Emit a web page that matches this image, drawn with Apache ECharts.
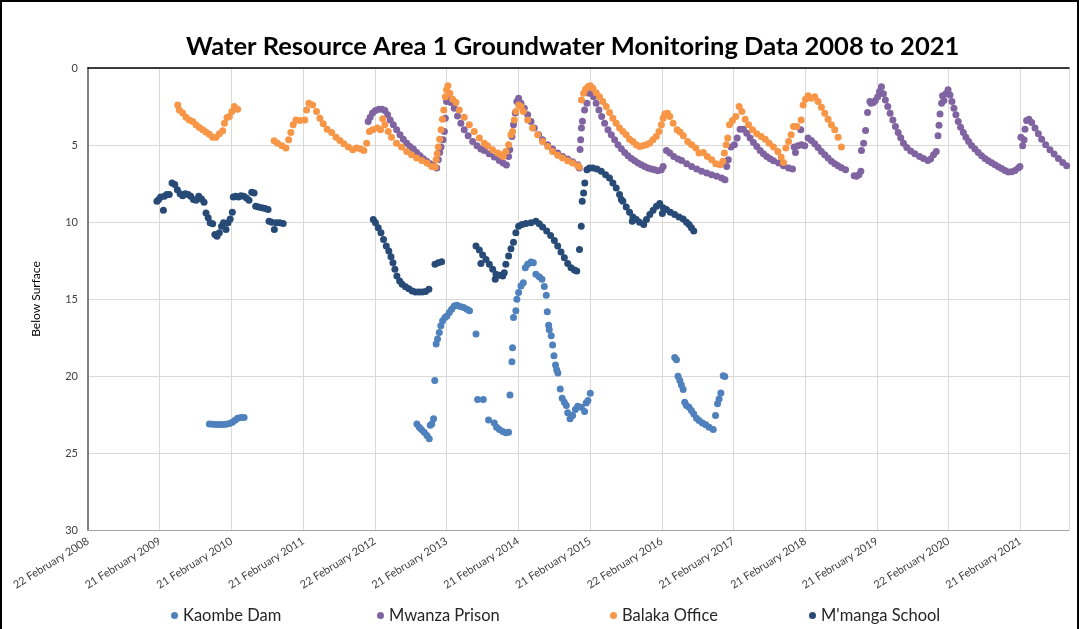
<!DOCTYPE html>
<html>
<head>
<meta charset="utf-8">
<script src="https://cdn.jsdelivr.net/npm/echarts@6/dist/echarts.min.js"></script>
<style>
  html, body { margin: 0; padding: 0; background: #fff; }
  #chart { position: absolute; left: 0; top: 0; width: 1079px; height: 629px; }
  #frame { position: absolute; left: 0; top: 0; width: 1075px; height: 629px;
           border-left: 2px solid #000; border-top: 2px solid #000; border-right: 2px solid #000;
           box-sizing: content-box; pointer-events: none; }
</style>
</head>
<body>
<div id="chart"></div>
<div id="frame"></div>
<script>
// groundwater depth below surface (m)
const kaombeDam = [
  ['2009-11-01',23.11],['2009-11-18',23.13],['2009-12-05',23.15],['2009-12-22',23.15],['2010-01-08',23.15],['2010-01-25',23.13],
  ['2010-02-11',23.09],['2010-02-26',23.0],['2010-03-12',22.87],['2010-03-25',22.74],['2010-04-10',22.7],['2010-04-27',22.7],
  ['2012-09-23',23.11],['2012-10-05',23.32],['2012-10-16',23.47],['2012-10-30',23.65],['2012-11-13',23.86],['2012-11-25',24.08],
  ['2012-11-30',23.2],['2012-12-08',23.11],['2012-12-17',22.78],['2012-12-23',20.3],['2012-12-30',17.93],['2013-01-06',17.6],
  ['2013-01-15',17.17],['2013-01-23',16.74],['2013-02-01',16.42],['2013-02-13',16.2],['2013-02-23',16.1],['2013-03-07',15.88],
  ['2013-03-19',15.66],['2013-04-01',15.45],['2013-04-15',15.4],['2013-05-02',15.49],['2013-05-19',15.56],['2013-06-05',15.66],
  ['2013-06-18',15.77],['2013-07-21',17.28],['2013-07-29',21.53],['2013-08-27',21.53],['2013-09-23',22.85],['2013-10-22',23.06],
  ['2013-11-03',23.32],['2013-11-17',23.47],['2013-12-04',23.6],['2013-12-20',23.69],['2014-01-03',23.65],['2014-01-10',21.23],
  ['2014-01-20',19.07],['2014-01-23',18.17],['2014-01-28',16.2],['2014-02-09',15.77],['2014-02-14',15.02],['2014-02-23',14.58],
  ['2014-03-07',14.16],['2014-03-19',13.94],['2014-03-29',12.97],['2014-04-10',12.75],['2014-04-27',12.6],['2014-05-09',12.64],
  ['2014-05-22',13.4],['2014-06-08',13.55],['2014-06-22',13.72],['2014-07-04',14.19],['2014-07-14',14.75],['2014-07-19',15.83],
  ['2014-07-26',16.7],['2014-07-29',17.0],['2014-08-08',17.39],['2014-08-15',17.99],['2014-08-22',18.68],['2014-08-30',19.29],
  ['2014-09-05',19.59],['2014-09-11',19.81],['2014-09-23',20.84],['2014-10-03',21.44],['2014-10-14',21.7],['2014-10-24',21.92],
  ['2014-10-31',22.39],['2014-11-12',22.78],['2014-11-25',22.57],['2014-12-09',22.18],['2014-12-21',21.96],['2015-01-08',22.03],
  ['2015-01-25',22.31],['2015-02-02',21.75],['2015-02-11',21.59],['2015-02-23',21.12],
  ['2016-04-28',18.8],['2016-05-07',18.94],['2016-05-15',20.02],['2016-05-24',20.3],['2016-06-01',20.58],['2016-06-10',20.88],
  ['2016-06-18',21.7],['2016-06-27',21.92],['2016-07-10',22.03],['2016-07-22',22.24],['2016-08-03',22.46],['2016-08-17',22.74],
  ['2016-08-30',22.89],['2016-09-16',23.05],['2016-10-03',23.17],['2016-10-20',23.32],['2016-11-10',23.47],['2016-11-22',22.57],
  ['2016-12-02',21.81],['2016-12-10',21.49],['2016-12-19',21.1],['2016-12-31',19.98],['2017-01-08',20.04]
]

const mwanzaPrison = [
  ['2012-01-19',3.47],['2012-01-29',3.19],['2012-02-10',2.93],['2012-02-25',2.76],['2012-03-13',2.68],['2012-03-30',2.68],
  ['2012-04-13',2.76],['2012-04-27',3.04],['2012-05-10',3.37],['2012-05-26',3.69],['2012-06-12',4.01],['2012-06-29',4.34],
  ['2012-07-16',4.62],['2012-08-02',4.88],['2012-08-19',5.09],['2012-09-05',5.26],['2012-09-22',5.48],['2012-10-09',5.7],
  ['2012-10-26',5.89],['2012-11-12',6.06],['2012-11-29',6.21],['2012-12-16',6.34],['2013-01-02',6.49],['2013-01-10',5.95],
  ['2013-01-17',5.48],['2013-01-24',5.13],['2013-02-03',4.66],['2013-02-10',4.12],['2013-02-15',3.26],['2013-02-21',2.18],
  ['2013-03-01',2.03],['2013-03-15',2.24],['2013-04-01',2.61],['2013-04-18',3.11],['2013-05-05',3.58],['2013-05-22',4.01],
  ['2013-06-11',4.4],['2013-07-04',4.77],['2013-07-26',5.05],['2013-08-15',5.26],['2013-09-01',5.35],['2013-09-26',5.57],
  ['2013-10-22',5.78],['2013-11-16',6.0],['2013-12-06',6.17],['2013-12-23',6.3],['2014-01-03',5.74],['2014-01-09',5.31],
  ['2014-01-20',4.44],['2014-01-28',3.69],['2014-02-06',2.93],['2014-02-14',2.18],['2014-02-23',1.96],['2014-03-07',2.29],
  ['2014-03-24',2.61],['2014-04-10',3.04],['2014-04-27',3.47],['2014-05-14',3.9],['2014-06-05',4.34],['2014-06-25',4.66],
  ['2014-07-21',4.98],['2014-08-15',5.26],['2014-09-10',5.52],['2014-10-05',5.74],['2014-10-31',5.91],['2014-11-25',6.08],
  ['2014-12-21',6.28],['2014-12-29',6.49],['2015-01-02',5.3],['2015-01-05',4.66],['2015-01-09',3.9],['2015-01-14',3.45],
  ['2015-01-25',2.72],['2015-02-06',2.29],['2015-02-16',1.64],['2015-02-26',1.53],['2015-03-12',1.86],['2015-03-25',2.29],
  ['2015-04-08',2.72],['2015-04-22',3.15],['2015-05-07',3.58],['2015-05-24',4.01],['2015-06-10',4.34],['2015-06-27',4.66],
  ['2015-07-14',4.98],['2015-07-31',5.24],['2015-08-17',5.48],['2015-09-03',5.7],['2015-09-20',5.87],['2015-10-07',6.02],
  ['2015-10-24',6.17],['2015-11-10',6.28],['2015-11-27',6.39],['2015-12-14',6.49],['2015-12-31',6.56],['2016-01-17',6.6],
  ['2016-02-03',6.67],['2016-02-20',6.6],['2016-02-29',6.39],['2016-03-17',5.35],['2016-04-03',5.52],['2016-04-23',5.74],
  ['2016-05-15',5.91],['2016-06-02',6.0],['2016-06-28',6.21],['2016-07-23',6.39],['2016-08-18',6.56],['2016-09-12',6.71],
  ['2016-10-08',6.82],['2016-11-02',6.93],['2016-11-28',7.03],['2016-12-23',7.14],['2017-01-09',7.25],['2017-01-18',6.39],
  ['2017-01-26',5.95],['2017-02-09',5.13],['2017-02-26',4.98],['2017-03-12',4.55],['2017-03-27',3.97],['2017-04-13',3.97],
  ['2017-04-30',4.23],['2017-05-17',4.55],['2017-06-03',4.83],['2017-06-20',5.09],['2017-07-07',5.35],['2017-07-24',5.57],
  ['2017-08-10',5.74],['2017-08-27',5.89],['2017-09-13',6.02],['2017-10-09',6.17],['2017-11-03',6.34],['2017-11-29',6.49],
  ['2017-12-19',6.56],['2017-12-27',5.13],['2018-01-03',5.48],['2018-01-16',5.05],['2018-01-30',4.01],['2018-02-02',4.98],
  ['2018-02-19',5.05],['2018-03-08',4.55],['2018-03-25',4.7],['2018-04-11',4.92],['2018-04-28',5.16],['2018-05-15',5.42],
  ['2018-06-01',5.63],['2018-06-18',5.85],['2018-07-05',6.06],['2018-07-22',6.21],['2018-08-08',6.34],['2018-08-25',6.47],
  ['2018-09-15',6.6],['2018-10-29',6.99],['2018-11-10',7.03],['2018-11-22',6.93],['2018-12-02',6.71],['2018-12-05',5.35],
  ['2018-12-16',4.88],['2018-12-26',4.06],['2019-01-05',2.89],['2019-01-17',2.18],['2019-01-23',2.29],['2019-02-04',2.24],
  ['2019-02-14',2.11],['2019-02-26',1.86],['2019-03-07',1.53],['2019-03-17',1.21],['2019-03-27',1.68],['2019-04-06',2.07],
  ['2019-04-18',2.5],['2019-04-30',2.94],['2019-05-14',3.37],['2019-05-27',3.8],['2019-06-10',4.19],['2019-06-23',4.53],
  ['2019-07-07',4.88],['2019-07-24',5.16],['2019-08-13',5.39],['2019-09-03',5.57],['2019-09-27',5.74],['2019-10-17',5.87],
  ['2019-11-08',6.0],['2019-11-22',5.91],['2019-12-07',5.63],['2019-12-21',5.42],['2019-12-30',4.4],['2020-01-04',3.71],
  ['2020-01-09',2.98],['2020-01-17',2.29],['2020-01-22',1.81],['2020-01-29',2.11],['2020-02-08',1.68],['2020-02-19',1.42],
  ['2020-02-29',1.75],['2020-03-10',2.18],['2020-03-20',2.61],['2020-03-30',3.04],['2020-04-11',3.47],['2020-04-23',3.84],
  ['2020-05-07',4.19],['2020-05-20',4.49],['2020-06-03',4.77],['2020-06-18',5.03],['2020-07-05',5.26],['2020-07-22',5.48],
  ['2020-08-08',5.7],['2020-08-25',5.87],['2020-09-11',6.02],['2020-09-28',6.15],['2020-10-15',6.28],['2020-11-01',6.41],
  ['2020-11-18',6.52],['2020-12-05',6.65],['2020-12-22',6.75],['2021-01-08',6.73],['2021-01-25',6.65],['2021-02-11',6.49],
  ['2021-02-19',6.39],['2021-02-24',4.49],['2021-03-05',5.05],['2021-03-12',4.66],['2021-03-17',3.97],['2021-03-25',3.41],
  ['2021-04-06',3.32],['2021-04-20',3.54],['2021-05-07',3.9],['2021-05-24',4.27],['2021-06-10',4.62],['2021-06-30',4.98],
  ['2021-07-22',5.31],['2021-08-12',5.59],['2021-09-03',5.87],['2021-09-25',6.13],['2021-10-15',6.34]
]

const balakaOffice = [
  ['2009-05-24',2.4],['2009-06-01',2.72],['2009-06-18',2.93],['2009-07-05',3.19],['2009-07-22',3.37],['2009-08-08',3.47],
  ['2009-08-25',3.69],['2009-09-11',3.86],['2009-09-28',4.01],['2009-10-15',4.16],['2009-11-01',4.31],['2009-11-18',4.49],
  ['2009-12-05',4.49],['2009-12-22',4.27],['2010-01-08',4.08],['2010-01-17',3.58],['2010-01-30',3.21],['2010-02-11',3.15],
  ['2010-02-24',2.83],['2010-03-08',2.5],['2010-03-25',2.68],
  ['2010-09-27',4.73],['2010-10-14',4.88],['2010-11-06',5.05],['2010-11-26',5.2],['2010-12-10',4.66],['2010-12-21',4.19],
  ['2011-01-02',3.69],['2011-01-16',3.37],['2011-02-05',3.41],['2011-03-02',3.37],['2011-03-11',2.72],['2011-03-23',2.29],
  ['2011-04-11',2.4],['2011-05-01',2.83],['2011-05-18',3.26],['2011-06-04',3.62],['2011-06-24',3.97],['2011-07-17',4.19],
  ['2011-08-08',4.49],['2011-08-28',4.7],['2011-09-17',4.92],['2011-10-10',5.13],['2011-11-01',5.31],['2011-11-21',5.2],
  ['2011-12-11',5.26],['2011-12-28',5.35],['2012-01-11',4.88],['2012-01-25',4.12],['2012-02-11',4.01],['2012-03-05',3.9],
  ['2012-03-22',4.01],['2012-04-02',3.3],['2012-04-13',3.69],['2012-04-30',4.12],['2012-05-17',4.49],['2012-06-11',4.88],
  ['2012-07-07',5.13],['2012-08-02',5.42],['2012-08-27',5.63],['2012-09-22',5.85],['2012-10-18',6.0],['2012-11-13',6.17],
  ['2012-12-08',6.39],['2012-12-25',6.43],['2012-12-30',5.95],['2013-01-04',5.57],['2013-01-10',5.13],['2013-01-17',4.62],
  ['2013-01-24',4.01],['2013-01-31',3.32],['2013-02-07',2.72],['2013-02-15',1.86],['2013-02-21',1.42],['2013-02-28',1.16],
  ['2013-03-10',1.64],['2013-03-24',2.03],['2013-04-10',2.24],['2013-04-27',2.72],['2013-05-22',3.19],['2013-06-17',3.69],
  ['2013-07-12',4.12],['2013-08-07',4.55],['2013-09-01',4.88],['2013-09-18',5.05],['2013-10-13',5.31],['2013-11-08',5.52],
  ['2013-11-25',5.63],['2013-12-06',5.74],['2013-12-20',5.42],['2014-01-03',4.98],['2014-01-15',4.34],['2014-01-23',4.12],
  ['2014-02-01',3.37],['2014-02-09',2.83],['2014-02-23',2.4],['2014-03-07',2.5],['2014-03-19',2.83],['2014-04-10',3.37],
  ['2014-05-05',3.9],['2014-05-31',4.34],['2014-06-25',4.77],['2014-07-21',5.09],['2014-08-15',5.42],['2014-09-10',5.67],
  ['2014-10-05',5.85],['2014-10-31',6.02],['2014-11-25',6.17],['2014-12-21',6.34],['2014-12-29',6.43],
  ['2015-01-09',2.07],['2015-01-20',1.64],['2015-01-30',1.38],['2015-02-11',1.21],['2015-02-23',1.16],['2015-03-08',1.32],
  ['2015-03-25',1.6],['2015-04-11',1.86],['2015-04-28',2.18],['2015-05-15',2.5],['2015-06-01',2.89],['2015-06-18',3.26],
  ['2015-07-05',3.58],['2015-07-22',3.9],['2015-08-08',4.12],['2015-08-25',4.34],['2015-09-11',4.62],['2015-09-28',4.77],
  ['2015-10-15',4.98],['2015-11-01',5.09],['2015-11-18',5.05],['2015-12-05',4.98],['2015-12-22',4.88],['2016-01-08',4.66],
  ['2016-01-25',4.44],['2016-02-08',4.12],['2016-02-20',3.69],['2016-02-29',3.26],['2016-03-08',2.98],['2016-03-22',2.94],
  ['2016-04-03',3.15],['2016-04-20',3.58],['2016-05-10',4.01],['2016-05-25',4.15],['2016-06-11',4.4],['2016-07-03',4.77],
  ['2016-07-23',4.98],['2016-08-13',5.2],['2016-08-30',5.52],['2016-09-21',5.48],['2016-10-11',5.74],['2016-11-02',5.95],
  ['2016-11-23',6.21],['2016-12-15',6.28],['2016-12-29',6.06],['2017-01-06',5.52],['2017-01-15',4.98],['2017-01-23',4.55],
  ['2017-02-01',3.69],['2017-02-16',3.41],['2017-03-05',3.15],['2017-03-22',2.5],['2017-04-05',2.83],['2017-04-22',3.32],
  ['2017-05-09',3.69],['2017-05-29',4.01],['2017-06-20',4.27],['2017-07-12',4.44],['2017-08-02',4.62],['2017-08-22',4.88],
  ['2017-09-13',5.13],['2017-10-05',5.42],['2017-10-22',5.78],['2017-11-03',6.13],['2017-11-15',5.2],['2017-11-29',4.77],
  ['2017-12-12',4.34],['2017-12-24',3.8],['2018-01-10',3.8],['2018-02-01',3.37],['2018-02-11',2.4],['2018-02-23',2.03],
  ['2018-03-08',1.81],['2018-03-25',1.96],['2018-04-11',1.86],['2018-04-28',2.18],['2018-05-15',2.55],['2018-06-01',2.94],
  ['2018-06-18',3.32],['2018-07-05',3.69],['2018-07-22',4.01],['2018-08-08',4.49],['2018-08-25',5.13]
]

const mmangaSchool = [
  ['2009-02-07',8.65],['2009-02-16',8.54],['2009-02-26',8.37],['2009-03-12',9.24],['2009-03-17',8.33],['2009-03-29',8.22],
  ['2009-04-11',8.22],['2009-04-25',7.46],['2009-05-09',7.57],['2009-05-22',7.9],['2009-06-05',8.16],['2009-06-18',8.29],
  ['2009-07-02',8.16],['2009-07-16',8.22],['2009-07-29',8.33],['2009-08-12',8.54],['2009-08-25',8.59],['2009-09-08',8.33],
  ['2009-09-22',8.5],['2009-10-05',8.72],['2009-10-15',9.41],['2009-10-26',9.73],['2009-11-05',10.05],['2009-11-18',10.12],
  ['2009-11-29',10.81],['2009-12-10',10.92],['2009-12-22',10.7],['2010-01-02',10.27],['2010-01-12',10.05],['2010-01-25',10.49],
  ['2010-02-04',10.05],['2010-02-15',9.8],['2010-02-26',9.36],['2010-03-03',8.37],['2010-03-15',8.33],['2010-03-29',8.37],
  ['2010-04-11',8.29],['2010-04-25',8.33],['2010-05-09',8.44],['2010-05-22',8.59],['2010-06-05',8.07],['2010-06-17',8.11],
  ['2010-06-25',8.98],['2010-07-09',9.02],['2010-07-26',9.08],['2010-08-12',9.13],['2010-08-27',9.19],['2010-09-01',9.95],
  ['2010-09-15',10.01],['2010-09-28',10.49],['2010-10-09',10.05],['2010-10-26',10.05],['2010-11-12',10.1],
  ['2012-02-14',9.84],['2012-02-25',10.05],['2012-03-10',10.38],['2012-03-24',10.7],['2012-04-06',11.13],['2012-04-20',11.56],
  ['2012-05-03',11.89],['2012-05-14',12.25],['2012-05-24',12.64],['2012-06-03',13.07],['2012-06-13',13.51],['2012-06-27',13.83],
  ['2012-07-10',14.05],['2012-07-27',14.2],['2012-08-13',14.33],['2012-08-30',14.48],['2012-09-16',14.54],['2012-10-03',14.54],
  ['2012-10-20',14.54],['2012-11-06',14.52],['2012-11-23',14.37],['2012-12-24',12.75],['2013-01-10',12.64],['2013-01-27',12.58],
  ['2013-07-21',11.56],['2013-08-07',11.82],['2013-08-15',12.69],['2013-08-24',12.15],['2013-09-10',12.43],['2013-09-27',12.75],
  ['2013-10-14',13.07],['2013-10-27',13.72],['2013-10-31',13.4],['2013-11-17',13.46],['2013-12-04',13.51],['2013-12-12',13.29],
  ['2013-12-20',12.75],['2014-01-03',12.21],['2014-01-15',11.74],['2014-01-28',11.31],['2014-02-09',10.7],['2014-02-23',10.27],
  ['2014-03-12',10.16],['2014-04-01',10.1],['2014-04-27',10.05],['2014-05-22',9.95],['2014-06-08',10.12],['2014-06-25',10.33],
  ['2014-07-16',10.59],['2014-08-05',10.87],['2014-08-24',11.2],['2014-09-10',11.56],['2014-09-27',11.95],['2014-10-14',12.32],
  ['2014-10-31',12.69],['2014-11-17',12.97],['2014-12-04',13.12],['2014-12-16',13.18],['2014-12-30',11.78],['2015-01-08',10.27],
  ['2015-01-13',8.65],['2015-01-20',8.11],['2015-01-26',7.46],['2015-02-06',6.6],['2015-02-19',6.49],['2015-03-08',6.49],
  ['2015-03-29',6.56],['2015-04-20',6.71],['2015-05-12',6.93],['2015-06-01',7.14],['2015-06-18',7.46],['2015-07-05',7.79],
  ['2015-07-22',8.22],['2015-07-31',8.54],['2015-08-08',8.65],['2015-08-25',9.02],['2015-09-11',9.36],['2015-09-25',9.95],
  ['2015-09-28',9.67],['2015-10-15',9.84],['2015-11-01',10.01],['2015-11-22',10.16],['2015-12-06',9.84],['2015-12-23',9.51],
  ['2016-01-09',9.23],['2016-01-26',8.98],['2016-02-12',8.8],['2016-02-25',9.45],['2016-02-29',9.08],['2016-03-17',9.19],
  ['2016-04-06',9.36],['2016-04-28',9.51],['2016-05-20',9.67],['2016-06-10',9.8],['2016-06-27',10.01],['2016-07-10',10.16],
  ['2016-07-22',10.38],['2016-08-03',10.59]
]

const seriesNames = ['Kaombe Dam', 'Mwanza Prison', 'Balaka Office', "M'manga School"]
const seriesColors = ['#4f81bd', '#8064a2', '#f79646', '#274b76']
const monthNames = ['January','February','March','April','May','June','July','August','September','October','November','December']

// x axis counts days from the first tick, one tick every 365.25 days (as in the source chart)
const startDay = Date.UTC(2008, 1, 22)
const dayMs = 86400000
const endDays = 4996

function toDays(s) {
  return Math.round((Date.parse(s) - startDay) / dayMs)
}
function toPoints(list) {
  return list.map(p => [toDays(p[0]), p[1]])
}
function dayLabel(v) {
  const d = new Date(startDay + Math.floor(v + 0.001) * dayMs)
  return d.getUTCDate() + ' ' + monthNames[d.getUTCMonth()] + ' ' + d.getUTCFullYear()
}

const font = 'Lato, "Open Sans", sans-serif'
const chart = echarts.init(document.getElementById('chart'), null, { renderer: 'canvas' })
const allData = [kaombeDam, mwanzaPrison, balakaOffice, mmangaSchool]
const legendLeft = [166, 372, 605, 804]

chart.setOption({
  animation: false,
  backgroundColor: '#fff',
  textStyle: { fontFamily: font },
  title: {
    text: 'Water Resource Area 1 Groundwater Monitoring Data 2008 to 2021',
    left: 181,
    top: 29,
    textStyle: { fontFamily: font, fontSize: 25.5, fontWeight: 'bold', color: '#000' }
  },
  legend: seriesNames.map((n, i) => ({
    data: [n],
    left: legendLeft[i],
    top: 602,
    icon: 'circle',
    itemWidth: 7,
    itemHeight: 7,
    textStyle: { fontFamily: font, fontSize: 16.5, color: '#262626' }
  })),
  grid: { left: 88, right: 10, top: 68, bottom: 99 },
  xAxis: [
    {
      type: 'value',
      min: 0,
      max: endDays,
      interval: 365.25,
      axisLine: { show: true, onZero: false, lineStyle: { color: '#a6a6a6' } },
      axisTick: { show: false },
      splitLine: { show: true, lineStyle: { color: '#d9d9d9' } },
      axisLabel: {
        rotate: 32,
        margin: 10,
        fontSize: 11,
        color: '#404040',
        showMaxLabel: false,
        formatter: dayLabel
      }
    },
    {
      type: 'value',
      position: 'top',
      min: 0,
      max: endDays,
      axisLine: { show: true, onZero: false, lineStyle: { color: '#000', width: 1.5 } },
      axisTick: { show: false },
      axisLabel: { show: false },
      splitLine: { show: false }
    }
  ],
  yAxis: [
    {
      type: 'value',
      inverse: true,
      min: 0,
      max: 30,
      interval: 5,
      name: 'Below Surface',
      nameLocation: 'middle',
      nameGap: 46,
      nameTextStyle: { fontFamily: font, fontSize: 12, color: '#000' },
      axisLine: { show: true, lineStyle: { color: '#8c8c8c' } },
      axisTick: { show: false },
      splitLine: { lineStyle: { color: '#d9d9d9' } },
      axisLabel: { fontSize: 11, color: '#404040', margin: 10 }
    },
    {
      type: 'value',
      position: 'right',
      inverse: true,
      min: 0,
      max: 30,
      axisLine: { show: true, lineStyle: { color: '#7f7f7f', width: 2 } },
      axisTick: { show: false },
      axisLabel: { show: false },
      splitLine: { show: false }
    }
  ],
  series: seriesNames.map((n, i) => ({
    name: n,
    type: 'scatter',
    symbol: 'circle',
    symbolSize: 7,
    itemStyle: { color: seriesColors[i], opacity: 1 },
    data: toPoints(allData[i])
  }))
})
</script>
</body>
</html>
